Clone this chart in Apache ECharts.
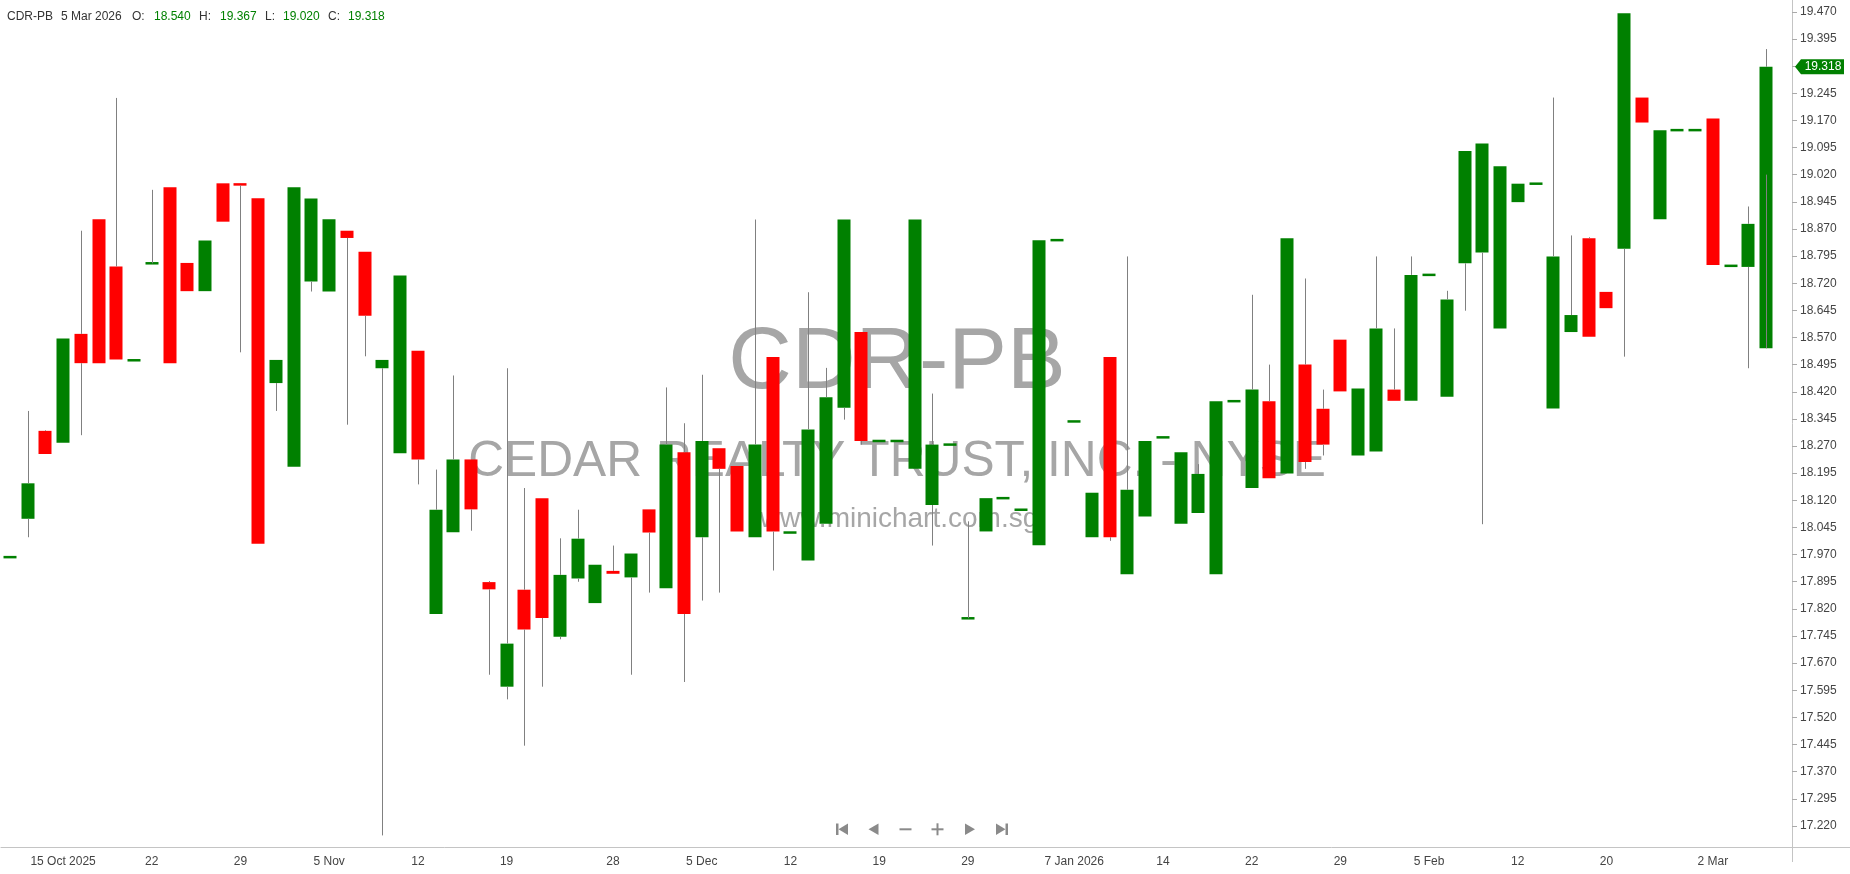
<!DOCTYPE html>
<html><head><meta charset="utf-8">
<script src="https://cdn.jsdelivr.net/npm/echarts@6/dist/echarts.min.js"></script>
<style>html,body{margin:0;padding:0;background:#fff}#c{width:1850px;height:874px}</style>
</head><body><div id="c"></div>
<script>
const symbol = 'CDR-PB';
const companyName = 'CEDAR REALTY TRUST, INC. - NYSE';
const siteName = 'www.minichart.com.sg';
const lastDateLabel = '5 Mar 2026';

const dates = ['2025-10-10','2025-10-13','2025-10-14','2025-10-15','2025-10-16','2025-10-17','2025-10-20','2025-10-21','2025-10-22','2025-10-23','2025-10-24','2025-10-27','2025-10-28','2025-10-29','2025-10-30','2025-10-31',
'2025-11-03','2025-11-04','2025-11-05','2025-11-06','2025-11-07','2025-11-10','2025-11-11','2025-11-12','2025-11-13','2025-11-14','2025-11-17','2025-11-18','2025-11-19','2025-11-20','2025-11-21','2025-11-24','2025-11-25','2025-11-26','2025-11-28',
'2025-12-01','2025-12-02','2025-12-03','2025-12-04','2025-12-05','2025-12-08','2025-12-09','2025-12-10','2025-12-11','2025-12-12','2025-12-15','2025-12-16','2025-12-17','2025-12-18','2025-12-19','2025-12-22','2025-12-23','2025-12-24','2025-12-26','2025-12-29','2025-12-30','2025-12-31',
'2026-01-02','2026-01-05','2026-01-06','2026-01-07','2026-01-08','2026-01-09','2026-01-12','2026-01-13','2026-01-14','2026-01-15','2026-01-16','2026-01-20','2026-01-21','2026-01-22','2026-01-23','2026-01-26','2026-01-27','2026-01-28','2026-01-29','2026-01-30',
'2026-02-02','2026-02-03','2026-02-04','2026-02-05','2026-02-06','2026-02-09','2026-02-10','2026-02-11','2026-02-12','2026-02-13','2026-02-17','2026-02-18','2026-02-19','2026-02-20','2026-02-23','2026-02-24','2026-02-25','2026-02-26','2026-02-27',
'2026-03-02','2026-03-03','2026-03-04','2026-03-05'];

const opens = [17.963,18.069,18.312,18.279,18.580,18.897,18.766,18.507,18.775,18.985,18.776,18.698,18.996,18.996,18.955,18.444,
18.213,18.725,18.697,18.865,18.807,18.485,18.250,18.533,17.806,18.032,18.233,17.894,17.605,17.873,18.126,17.743,17.904,17.836,17.925,
17.907,18.095,17.877,18.253,18.018,18.264,18.215,18.018,18.516,18.031,17.954,18.055,18.376,18.585,18.284,18.284,18.207,18.107,18.274,17.794,18.034,18.126,
18.094,17.996,18.839,18.338,18.018,18.516,17.916,18.075,18.294,18.055,18.085,17.916,18.394,18.154,18.394,18.194,18.495,18.373,18.564,18.244,
18.255,18.426,18.395,18.743,18.406,18.775,18.805,18.595,18.944,18.995,18.374,18.585,18.844,18.696,18.815,19.233,18.897,19.143,19.143,
19.175,18.768,18.765,18.540];
const closes = [17.963,18.167,18.248,18.567,18.499,18.499,18.509,18.507,18.775,18.499,18.698,18.838,18.890,18.990,18.000,18.508,
18.985,18.954,18.897,18.845,18.630,18.508,18.741,18.233,18.094,18.233,18.095,17.874,17.724,17.763,17.795,17.914,18.014,17.942,17.917,
17.973,18.031,18.274,17.806,18.284,18.207,18.034,18.274,18.034,18.031,18.316,18.405,18.896,18.284,18.284,18.284,18.896,18.274,18.274,17.794,18.126,18.126,
18.094,18.839,18.839,18.338,18.141,18.018,18.149,18.284,18.294,18.253,18.193,18.394,18.394,18.426,18.181,18.844,18.226,18.274,18.421,18.429,
18.595,18.395,18.743,18.743,18.675,19.085,19.106,19.043,18.995,18.995,18.794,18.632,18.572,18.651,19.466,19.164,19.143,19.143,19.143,
18.770,18.768,18.884,19.318];
const lows = [17.963,18.018,18.248,18.279,18.300,18.499,18.509,18.507,18.775,18.499,18.698,18.698,18.890,18.529,18.000,18.367,
18.213,18.697,18.697,18.329,18.518,17.194,18.250,18.164,17.806,18.032,18.036,17.638,17.570,17.442,17.605,17.736,17.895,17.836,17.917,
17.638,17.865,17.877,17.618,17.843,17.865,18.034,18.018,17.926,18.031,17.954,18.055,18.343,18.274,18.284,18.284,18.207,17.995,18.274,17.794,18.034,18.126,
18.094,17.996,18.839,18.338,18.018,18.008,17.916,18.075,18.294,18.055,18.085,17.916,18.394,18.154,18.181,18.194,18.207,18.244,18.421,18.244,
18.255,18.395,18.395,18.743,18.406,18.644,18.054,18.595,18.944,18.995,18.374,18.585,18.572,18.651,18.517,19.164,18.897,19.143,19.143,
18.770,18.768,18.485,19.020];
const highs = [17.963,18.367,18.314,18.567,18.865,18.897,19.232,18.507,18.978,18.985,18.776,18.838,18.996,18.996,18.955,18.508,
18.985,18.954,18.897,18.865,18.807,18.508,18.741,18.533,18.205,18.465,18.233,17.897,18.485,18.154,18.126,18.015,18.094,17.942,17.995,
17.973,18.095,18.432,18.333,18.467,18.264,18.215,18.896,18.516,18.031,18.695,18.486,18.896,18.585,18.284,18.284,18.896,18.415,18.274,18.062,18.126,18.126,
18.094,18.839,18.839,18.338,18.141,18.516,18.794,18.284,18.294,18.253,18.220,18.394,18.394,18.688,18.495,18.844,18.733,18.426,18.564,18.429,
18.794,18.595,18.794,18.743,18.699,19.085,19.106,19.043,18.995,18.995,19.233,18.852,18.847,18.696,19.466,19.233,19.143,19.143,19.143,
19.175,18.768,18.932,19.367];

const yTicks = [17.220,17.295,17.370,17.445,17.520,17.595,17.670,17.745,17.820,17.895,17.970,18.045,18.120,18.195,18.270,18.345,
18.420,18.495,18.570,18.645,18.720,18.795,18.870,18.945,19.020,19.095,19.170,19.245,19.320,19.395,19.470];
const xTickDates = ['2025-10-15','2025-10-22','2025-10-29','2025-11-05','2025-11-12','2025-11-19','2025-11-28','2025-12-05','2025-12-12','2025-12-19','2025-12-29','2026-01-07','2026-01-14','2026-01-22','2026-01-29','2026-02-05','2026-02-12','2026-02-20','2026-03-02'];
const xTickLabels = ['15 Oct 2025','22','29','5 Nov','12','19','28','5 Dec','12','19','29','7 Jan 2026','14','22','29','5 Feb','12','20','2 Mar'];

const FONT = '"Liberation Sans", Arial, sans-serif';
const UP = '#008000', DOWN = '#ff0000', WICK = '#808080', AXIS = '#c4c4c4', TXT = '#444444';

const chart = echarts.init(document.getElementById('c'), null, {renderer: 'canvas'});
const seriesData = dates.map((d, i) => [i, opens[i], closes[i], lows[i], highs[i]]);
const isTick = (idx, val) => xTickDates.indexOf(val) >= 0;

function renderCandle(params, api) {
  const i = api.value(0), o = api.value(1), c = api.value(2), l = api.value(3), h = api.value(4);
  const pO = api.coord([i, o]), pC = api.coord([i, c]), pL = api.coord([i, l]), pH = api.coord([i, h]);
  const x = Math.round(pO[0]);
  const w = Math.round(api.size([1, 0])[0] * 0.75);
  const col = c >= o ? UP : DOWN;
  const top = Math.min(pO[1], pC[1]), bot = Math.max(pO[1], pC[1]);
  let by = top, bh = bot - top;
  if (bh < 2.5) { by = (top + bot) / 2 - 1.25; bh = 2.5; }
  const children = [
    {type: 'rect', shape: {x: x - w / 2, y: by, width: w, height: bh}, style: {fill: col}, z2: 1}
  ];
  if (pH[1] < top - 0.5) children.push({type: 'line', shape: {x1: x + 0.5, y1: pH[1], x2: x + 0.5, y2: top}, style: {stroke: WICK, lineWidth: 1}, z2: 2});
  if (Math.abs(pL[1] - bot) > 0.5) children.push({type: 'line', shape: {x1: x + 0.5, y1: bot, x2: x + 0.5, y2: pL[1]}, style: {stroke: WICK, lineWidth: 1}, z2: 2});
  return {type: 'group', children};
}

chart.setOption({
  animation: false,
  textStyle: {fontFamily: FONT},
  grid: {left: 1, right: 75, top: 0, bottom: 27},
  xAxis: {
    type: 'category', data: dates, boundaryGap: true,
    axisLine: {lineStyle: {color: AXIS, width: 1}},
    axisTick: {alignWithLabel: true, interval: isTick, length: 5, lineStyle: {color: AXIS}},
    axisLabel: {interval: isTick, color: TXT, fontSize: 12, margin: 9, fontFamily: FONT,
      formatter: v => xTickLabels[xTickDates.indexOf(v)]},
    splitLine: {show: false}
  },
  yAxis: {
    type: 'value', position: 'right', offset: 17, min: 17.162, max: 19.5026, scale: true,
    axisLine: {show: true, lineStyle: {color: AXIS, width: 1}},
    axisTick: {show: true, length: 5, customValues: yTicks, lineStyle: {color: '#aaaaaa'}},
    axisLabel: {customValues: yTicks, color: TXT, fontSize: 12, margin: 8, fontFamily: FONT,
      formatter: v => v.toFixed(3)},
    splitLine: {show: false}
  },
  series: [{
    type: 'custom', name: symbol, renderItem: renderCandle, data: seriesData, z: 10,
    encode: {x: 0, y: [1, 2, 3, 4]}, clip: false
  }]
});

const last = dates.length - 1;
const yLast = chart.convertToPixel({yAxisIndex: 0}, closes[last]);
const NAV = '#8a8a8a';
const hdr = (t, x, color) => ({type: 'text', left: x, top: 11, style: {text: t, fill: color, font: '12px ' + FONT}, z: 100});
chart.setOption({
  graphic: [
    {type: 'text', x: 897, y: 364, z: 1, style: {text: symbol, fill: '#a6a6a6', font: '88px ' + FONT, align: 'center', verticalAlign: 'middle'}},
    {type: 'text', x: 897, y: 462, z: 1, style: {text: companyName, fill: '#a6a6a6', font: '49.7px ' + FONT, align: 'center', verticalAlign: 'middle'}},
    {type: 'text', x: 899, y: 519, z: 1, style: {text: siteName, fill: '#a6a6a6', font: '28px ' + FONT, align: 'center', verticalAlign: 'middle'}},
    hdr(symbol, 7, '#333333'),
    hdr(lastDateLabel, 61, '#333333'),
    hdr('O:', 132, '#333333'), hdr(opens[last].toFixed(3), 154, UP),
    hdr('H:', 199, '#333333'), hdr(highs[last].toFixed(3), 220, UP),
    hdr('L:', 265, '#333333'), hdr(lows[last].toFixed(3), 283, UP),
    hdr('C:', 328, '#333333'), hdr(closes[last].toFixed(3), 348, UP),
    {type: 'line', z: 50, shape: {x1: 1775, y1: 847.5, x2: 1850, y2: 847.5}, style: {stroke: AXIS, lineWidth: 1}},
    {type: 'line', z: 50, shape: {x1: 1792.5, y1: 847, x2: 1792.5, y2: 862}, style: {stroke: AXIS, lineWidth: 1}},
    {type: 'polygon', z: 60, shape: {points: [[1795, yLast], [1801, yLast - 7.5], [1844, yLast - 7.5], [1844, yLast + 7.5], [1801, yLast + 7.5]]}, style: {fill: UP}},
    {type: 'text', z: 61, x: 1823, y: yLast, style: {text: closes[last].toFixed(3), fill: '#ffffff', font: '12px ' + FONT, align: 'center', verticalAlign: 'middle'}},
    {type: 'rect', z: 60, shape: {x: 836, y: 823.5, width: 2.5, height: 11.5}, style: {fill: NAV}},
    {type: 'polygon', z: 60, shape: {points: [[838.5, 829.25], [848, 823.5], [848, 835]]}, style: {fill: NAV}},
    {type: 'polygon', z: 60, shape: {points: [[868.5, 829.25], [878.5, 823.5], [878.5, 835]]}, style: {fill: NAV}},
    {type: 'rect', z: 60, shape: {x: 899.5, y: 828.3, width: 12, height: 2}, style: {fill: NAV}},
    {type: 'rect', z: 60, shape: {x: 931.5, y: 828.3, width: 12, height: 2}, style: {fill: NAV}},
    {type: 'rect', z: 60, shape: {x: 936.5, y: 823.3, width: 2, height: 12}, style: {fill: NAV}},
    {type: 'polygon', z: 60, shape: {points: [[965, 823.5], [975, 829.25], [965, 835]]}, style: {fill: NAV}},
    {type: 'polygon', z: 60, shape: {points: [[996, 823.5], [1005.5, 829.25], [996, 835]]}, style: {fill: NAV}},
    {type: 'rect', z: 60, shape: {x: 1005.5, y: 823.5, width: 2.5, height: 11.5}, style: {fill: NAV}}
  ]
});
</script></body></html>
